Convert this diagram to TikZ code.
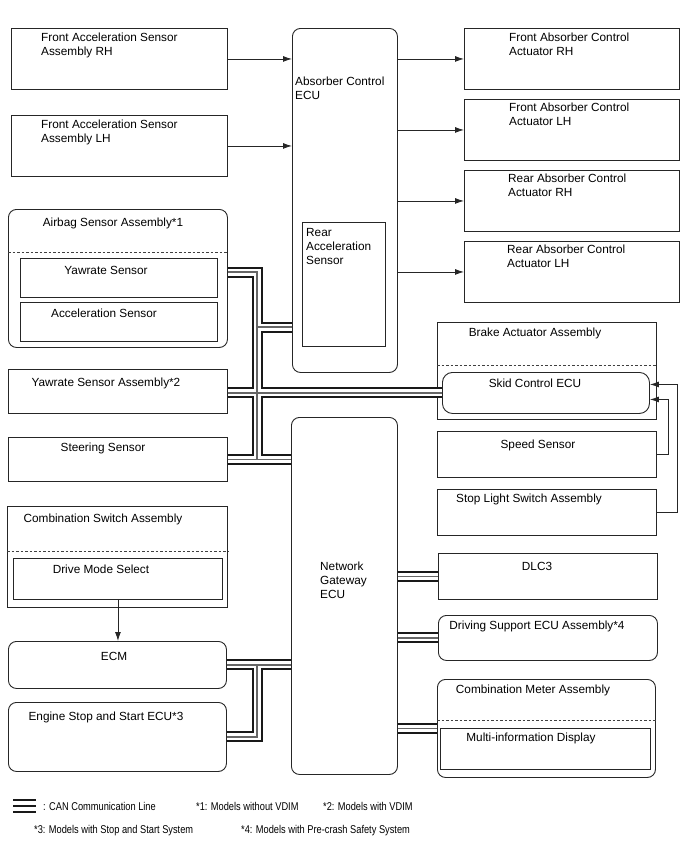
\documentclass[tikz,border=0pt]{standalone}
\usepackage{fontspec}
\setmainfont{Liberation Sans}
\newfontfamily\legendfont[FakeStretch=0.82]{Liberation Sans}
\usetikzlibrary{arrows.meta}

\tikzset{
  box/.style={draw=black!85, line width=0.9pt, anchor=north west, inner sep=0pt},
  rbox/.style={box, rounded corners=8pt},
  lbl/.style={inner sep=0pt, align=left, font=\fontsize{11.8}{14}\selectfont},
  ttl/.style={lbl, anchor=north},
  txt/.style={lbl, anchor=north west},
  leg/.style={inner sep=0pt, anchor=west, font=\legendfont\fontsize{11.3}{13}\selectfont},
  arr/.style={draw=black!85, line width=0.9pt, -{Latex[length=9pt,width=6pt]}},
  divider/.style={draw=black!75, line width=0.8pt, dash pattern=on 2.5pt off 2pt},
  canout/.style={line width=11pt, black!90},
  canmid/.style={line width=7pt, white},
  canin/.style={line width=1.2pt, black!60},
}

\begin{document}
\begin{tikzpicture}[x=1pt, y=-1pt]
  \useasboundingbox (0,0) rectangle (688,852);

  % absorber control side
  \node[box, minimum width=216pt, minimum height=61pt] (fr) at (11,28) {};
  \node[box, minimum width=216pt, minimum height=61pt] (fl) at (11,115) {};
  \node[rbox, minimum width=105pt, minimum height=344pt] (aecu) at (292,28) {};
  \node[box, minimum width=83pt, minimum height=124pt] (racc) at (302,222) {};
  \node[box, minimum width=215pt, minimum height=61pt] (afr) at (464,28) {};
  \node[box, minimum width=215pt, minimum height=61pt] (afl) at (464,99) {};
  \node[box, minimum width=215pt, minimum height=61pt] (arr) at (464,170) {};
  \node[box, minimum width=215pt, minimum height=61pt] (arl) at (464,241) {};

  \node[txt] (frt) at (41,33) {Front Acceleration Sensor\\Assembly RH};
  \node[txt] (flt) at (41,120) {Front Acceleration Sensor\\Assembly LH};
  \node[txt] (aecut) at (295,77) {Absorber Control\\ECU};
  \node[txt] (racct) at (306,228) {Rear\\Acceleration\\Sensor};
  \node[txt] (afrt) at (509,33) {Front Absorber Control\\Actuator RH};
  \node[txt] (aflt) at (509,103) {Front Absorber Control\\Actuator LH};
  \node[txt] (arrt) at (508,174) {Rear Absorber Control\\Actuator RH};
  \node[txt] (arlt) at (507,245) {Rear Absorber Control\\Actuator LH};

  % sensors on the left
  \node[rbox, minimum width=219pt, minimum height=138pt] (air) at (8,209) {};
  \node[box, minimum width=197pt, minimum height=39pt] (yaw) at (20,258) {};
  \node[box, minimum width=197pt, minimum height=39pt] (acc) at (20,302) {};
  \node[box, minimum width=219pt, minimum height=44pt] (yaw2) at (8,369) {};
  \node[box, minimum width=219pt, minimum height=44pt] (steer) at (8,437) {};
  \draw[divider] (air.west |- 0,252) -- (air.east |- 0,252);

  \node[ttl] (airt) at (113,218) {Airbag Sensor Assembly*1};
  \node[ttl] (yawt) at (106,266) {Yawrate Sensor};
  \node[ttl] (acct) at (104,309) {Acceleration Sensor};
  \node[ttl] (yaw2t) at (106,378) {Yawrate Sensor Assembly*2};
  \node[ttl] (steert) at (103,443) {Steering Sensor};

  % brake side
  \node[box, minimum width=219pt, minimum height=97pt] (brk) at (437,322) {};
  \node[rbox, rounded corners=10pt, minimum width=207pt, minimum height=41pt] (skid) at (442,372) {};
  \node[box, minimum width=219pt, minimum height=46pt] (spd) at (437,431) {};
  \node[box, minimum width=219pt, minimum height=46pt] (stop) at (437,489) {};
  \draw[divider] (brk.west |- 0,365) -- (brk.east |- 0,365);

  \node[ttl] (brkt) at (535,328) {Brake Actuator Assembly};
  \node[ttl] (skidt) at (535,379) {Skid Control ECU};
  \node[ttl] (spdt) at (538,440) {Speed Sensor};
  \node[ttl] (stopt) at (529,494) {Stop Light Switch Assembly};

  % lower left
  \node[box, minimum width=220pt, minimum height=101pt] (csw) at (7,506) {};
  \node[box, minimum width=209pt, minimum height=41pt] (dms) at (13,558) {};
  \node[rbox, minimum width=218pt, minimum height=47pt] (ecm) at (8,641) {};
  \node[rbox, minimum width=218pt, minimum height=69pt] (ess) at (8,702) {};
  \draw[divider] (csw.west |- 0,551) -- (csw.east |- 0,551);

  \node[ttl] (cswt) at (103,514) {Combination Switch Assembly};
  \node[ttl] (dmst) at (101,565) {Drive Mode Select};
  \node[ttl] (ecmt) at (114,652) {ECM};
  \node[ttl] (esst) at (106,712) {Engine Stop and Start ECU*3};

  % gateway side
  \node[rbox, minimum width=106pt, minimum height=357pt] (gw) at (291,417) {};
  \node[box, minimum width=219pt, minimum height=46pt] (dlc) at (438,553) {};
  \node[rbox, minimum width=219pt, minimum height=45pt] (dsu) at (438,615) {};
  \node[rbox, minimum width=218pt, minimum height=98pt] (cmb) at (437,679) {};
  \node[box, minimum width=210pt, minimum height=41pt] (mid) at (440,728) {};
  \draw[divider] (cmb.west |- 0,720) -- (cmb.east |- 0,720);

  \node[txt] (gwt) at (320,562) {Network\\Gateway\\ECU};
  \node[ttl] (dlct) at (537,562) {DLC3};
  \node[ttl] (dsut) at (537,621) {Driving Support ECU Assembly*4};
  \node[ttl] (cmbt) at (533,685) {Combination Meter Assembly};
  \node[ttl] (midt) at (531,733) {Multi-information Display};

  % signal lines
  \draw[arr] (fr.east) -- (aecu.west |- fr.east);
  \draw[arr] (fl.east) -- (aecu.west |- fl.east);
  \draw[arr] (aecu.east |- afr.west) -- (afr.west);
  \draw[arr] (aecu.east |- afl.west) -- (afl.west);
  \draw[arr] (aecu.east |- arr.west) -- (arr.west);
  \draw[arr] (aecu.east |- arl.west) -- (arl.west);
  \draw[arr] (dms.south) -- (dms.south |- ecm.north);
  \draw[arr] (spd.east) -- ++(12,0) |- ([yshift=-6.5pt]skid.east);
  \draw[arr] (stop.east) -- ++(21,0) |- ([yshift=8.5pt]skid.east);

  % CAN lines
  \coordinate (t1) at (257,272);
  \coordinate (t2) at (257,327);
  \coordinate (t4) at (t1 |- steer.east);
  \coordinate (b1) at (t1 |- ecm.east);
  \coordinate (b2) at (t1 |- ess.east);
  \foreach \s in {canout,canmid,canin}
    \draw[\s] (air.east |- t1) -- (t1) -- (t4)
      (t2) -- (aecu.west |- t2)
      (yaw2.east |- skid.west) -- (skid.west)
      (steer.east) -- (gw.west |- steer.east)
      (ecm.east) -- (gw.west |- ecm.east)
      (b1) -- (b2) -- (ess.east)
      (gw.east |- dlc.west) -- (dlc.west)
      (gw.east |- dsu.west) -- (dsu.west)
      (gw.east |- cmb.west) -- (cmb.west);

  % legend
  \coordinate (k1) at (13,800);
  \coordinate (k2) at (36,800);
  \foreach \d in {0,6,12}
    \draw[line width=2pt, black!90] ([yshift=-\d pt]k1) -- ([yshift=-\d pt]k2);
  \node[leg] (l0) at (43,806) {: CAN Communication Line};
  \node[leg] (l1) at (196,806) {*1: Models without VDIM};
  \node[leg] (l2) at (323,806) {*2: Models with VDIM};
  \node[leg] (l3) at (34,831) {*3: Models with Stop and Start System};
  \node[leg] (l4) at (241,831) {*4: Models with Pre-crash Safety System};
\end{tikzpicture}
\end{document}
